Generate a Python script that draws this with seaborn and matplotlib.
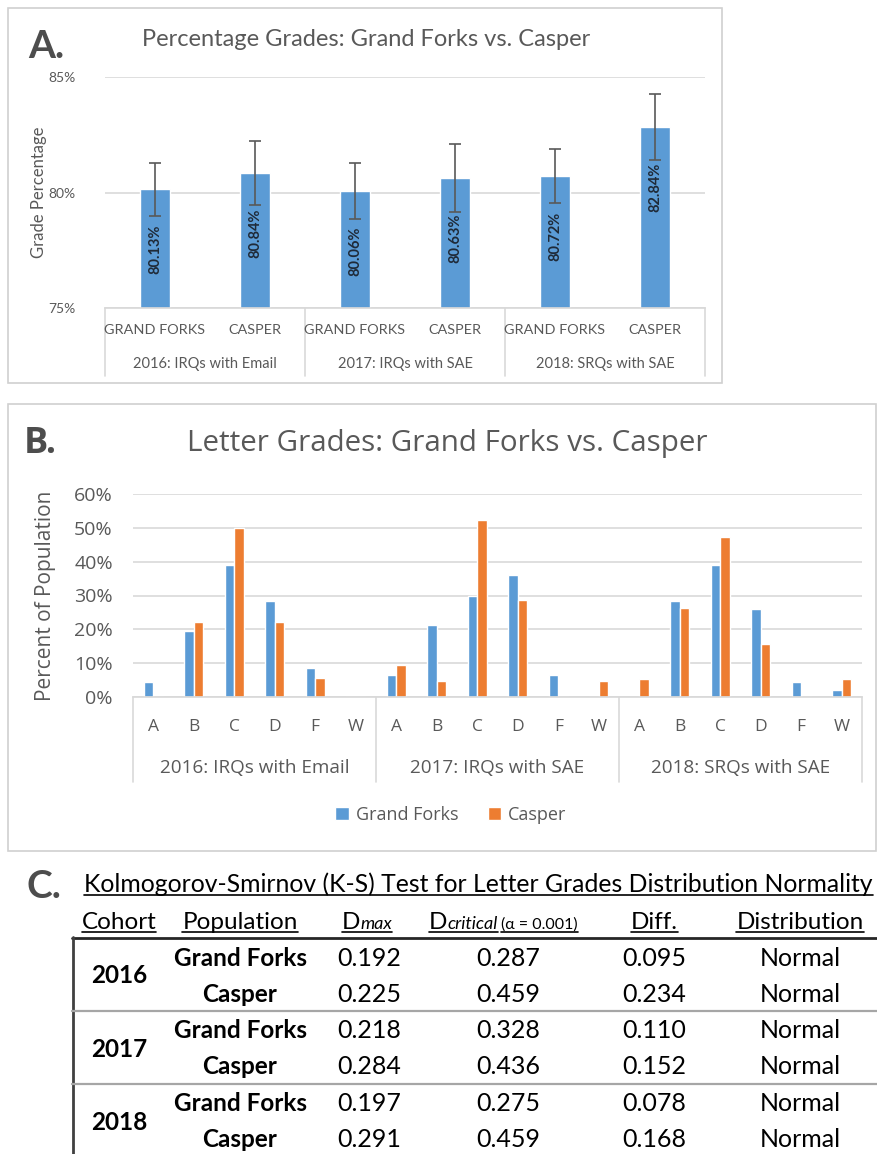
import numpy as np
import pandas as pd
import matplotlib
matplotlib.use("Agg")
import matplotlib.pyplot as plt
import matplotlib.transforms as mtransforms
from matplotlib.patches import Rectangle
from matplotlib.lines import Line2D
import seaborn as sns

# ---- Panel A: mean percentage grades with error bars ----
cohorts = ["2016: IRQs with Email", "2017: IRQs with SAE", "2018: SRQs with SAE"]
campuses_upper = ["GRAND FORKS", "CASPER"]
pct_grades = [80.13, 80.84, 80.06, 80.63, 80.72, 82.84]
pct_errors = [1.16, 1.37, 1.20, 1.47, 1.16, 1.44]

# ---- Panel B: letter grade distributions ----
letters = ["A", "B", "C", "D", "F", "W"]
campuses = ["Grand Forks", "Casper"]
gf_letter_pct = [4.4, 19.6, 39.1, 28.3, 8.7, 0.0,
                 6.4, 21.3, 29.8, 36.2, 6.4, 0.0,
                 0.0, 28.3, 39.1, 26.1, 4.3, 2.2]
casper_letter_pct = [0.0, 22.2, 50.0, 22.2, 5.6, 0.0,
                     9.5, 4.8, 52.4, 28.6, 0.0, 4.8,
                     5.3, 26.3, 47.4, 15.8, 0.0, 5.3]

# ---- Panel C: K-S normality test ----
ks_years = ["2016", "2017", "2018"]
ks_dmax = ["0.192", "0.225", "0.218", "0.284", "0.197", "0.291"]
ks_dcrit = ["0.287", "0.459", "0.328", "0.436", "0.275", "0.459"]
ks_diff = ["0.095", "0.234", "0.110", "0.152", "0.078", "0.168"]
ks_dist = ["Normal", "Normal", "Normal", "Normal", "Normal", "Normal"]

BLUE = "#5B9BD5"
ORANGE = "#ED7D31"
GRAY_TXT = "#595959"
GRID = "#D9D9D9"
CAL = ["Lato", "DejaVu Sans"]
SEG = ["Open Sans", "DejaVu Sans"]

sns.set_theme(style="white")
plt.rcParams["font.family"] = CAL

W, H = 877, 1154
fig = plt.figure(figsize=(W / 100, H / 100), dpi=100)
fig.patch.set_facecolor("white")


def fx(x):
    return x / W


def fy(y):
    return 1 - y / H


def axes_px(x0, y0, x1, y1):
    return fig.add_axes([x0 / W, 1 - y1 / H, (x1 - x0) / W, (y1 - y0) / H])


def frame_px(x0, y0, x1, y1, color="#D0D0D0", lw=1.2):
    fig.add_artist(Rectangle((fx(x0), fy(y1)), (x1 - x0) / W, (y1 - y0) / H,
                             transform=fig.transFigure, fill=False,
                             edgecolor=color, lw=lw))


def hline_px(x0, x1, y, color, lw):
    fig.add_artist(Line2D([fx(x0), fx(x1)], [fy(y), fy(y)],
                          transform=fig.transFigure, color=color, lw=lw))


def vline_px(x, y0, y1, color, lw):
    fig.add_artist(Line2D([fx(x), fx(x)], [fy(y0), fy(y1)],
                          transform=fig.transFigure, color=color, lw=lw))


# ================= Panel A =================
frame_px(8, 8, 722, 383)
fig.text(fx(28), fy(46), "A.", fontsize=28, fontweight="bold", color="#4D4D4D",
         ha="left", va="center")
fig.text(fx(366), fy(40), "Percentage Grades: Grand Forks vs. Casper",
         fontsize=17, color=GRAY_TXT, ha="center", va="center")

axA = axes_px(105, 77, 705, 308)
keysA = [f"{c}|{p}" for c in cohorts for p in campuses_upper]
dfA = pd.DataFrame({"key": keysA, "grade": pct_grades})
sns.barplot(data=dfA, x="key", y="grade", order=keysA, color=BLUE,
            saturation=1, width=0.3, errorbar=None, ax=axA, zorder=2)
axA.errorbar(np.arange(len(keysA)), pct_grades, yerr=pct_errors, fmt="none",
             ecolor="#595959", elinewidth=1.2, capsize=4, capthick=1.2, zorder=3)
axA.set_ylim(75, 85)
axA.set_xlim(-0.5, len(keysA) - 0.5)
axA.set_yticks([75, 80, 85])
axA.set_yticklabels(["75%", "80%", "85%"])
axA.yaxis.grid(True, color=GRID, lw=1.2, zorder=0)
axA.set_axisbelow(True)
axA.set_xticks([])
axA.set_xlabel("")
for s in axA.spines.values():
    s.set_visible(False)
axA.spines["bottom"].set_visible(True)
axA.spines["bottom"].set_color(GRID)
axA.tick_params(axis="y", length=0, pad=21, labelsize=10, labelcolor=GRAY_TXT)
axA.set_ylabel("Grade Percentage", fontsize=12, color=GRAY_TXT)
axA.yaxis.set_label_coords(-0.096, 0.5)

for i, v in enumerate(pct_grades):
    axA.text(i, v - 2.6, f"{v:.2f}%", rotation=90, ha="center", va="center",
             fontsize=10.5, fontweight="bold", color="#1F2A38", zorder=4)

trA = mtransforms.blended_transform_factory(axA.transData, fig.transFigure)
for i, k in enumerate(keysA):
    fig.text(i, fy(330), k.split("|")[1], transform=trA, ha="center",
             va="center", fontsize=10.4, color=GRAY_TXT)
for j, c in enumerate(cohorts):
    fig.text(2 * j + 0.5, fy(364), c, transform=trA, ha="center", va="center",
             fontsize=10.5, color=GRAY_TXT)
for xb in [-0.5, 1.5, 3.5, 5.5]:
    fig.add_artist(Line2D([xb, xb], [fy(308), fy(376)], transform=trA,
                          color=GRID, lw=1.2))

# ================= Panel B =================
frame_px(8, 404, 876, 851)
fig.text(fx(24), fy(444), "B.", fontsize=26, fontweight="bold", color="#4D4D4D",
         ha="left", va="center", family=SEG)
fig.text(fx(447), fy(444), "Letter Grades: Grand Forks vs. Casper",
         fontsize=21.3, color=GRAY_TXT, ha="center", va="center", family=SEG)

axB = axes_px(133, 494, 862, 697)
keysB = [f"{c}|{g}" for c in cohorts for g in letters]
dfB = pd.DataFrame({
    "key": keysB * 2,
    "campus": [campuses[0]] * len(keysB) + [campuses[1]] * len(keysB),
    "pct": gf_letter_pct + casper_letter_pct,
})
sns.barplot(data=dfB, x="key", y="pct", hue="campus", order=keysB,
            hue_order=campuses, palette=[BLUE, ORANGE], saturation=1,
            width=0.47, gap=0, errorbar=None, ax=axB, zorder=2)
axB.set_ylim(0, 60)
axB.set_xlim(-0.5, len(keysB) - 0.5)
axB.set_yticks(range(0, 61, 10))
axB.set_yticklabels([f"{t}%" for t in range(0, 61, 10)])
axB.yaxis.grid(True, color=GRID, lw=1.2, zorder=0)
axB.set_axisbelow(True)
axB.set_xticks([])
axB.set_xlabel("")
for s in axB.spines.values():
    s.set_visible(False)
axB.spines["bottom"].set_visible(True)
axB.spines["bottom"].set_color(GRID)
axB.tick_params(axis="y", length=0, pad=14.5, labelsize=14, labelcolor=GRAY_TXT,
                labelfontfamily="Open Sans")
axB.set_ylabel("Percent of Population", fontsize=15, color=GRAY_TXT, family=SEG)
axB.yaxis.set_label_coords(-0.106, 0.5)

trB = mtransforms.blended_transform_factory(axB.transData, fig.transFigure)
for i, k in enumerate(keysB):
    fig.text(i, fy(727), k.split("|")[1], transform=trB, ha="center",
             va="center", fontsize=12.5, color=GRAY_TXT, family=SEG)
for j, c in enumerate(cohorts):
    fig.text(6 * j + 2.5, fy(768), c, transform=trB, ha="center", va="center",
             fontsize=13.6, color=GRAY_TXT, family=SEG)
for xb in [-0.5, 5.5, 11.5, 17.5]:
    fig.add_artist(Line2D([xb, xb], [fy(697), fy(782)], transform=trB,
                          color=GRID, lw=1.2))

leg = axB.legend(loc="center", bbox_to_anchor=(fx(451), fy(815)),
                 bbox_transform=fig.transFigure, ncol=2, frameon=False,
                 handlelength=0.75, handleheight=0.75, handletextpad=0.4,
                 columnspacing=1.6, prop={"family": SEG, "size": 13})
for t in leg.get_texts():
    t.set_color(GRAY_TXT)

# ================= Panel C =================
renderer = fig.canvas.get_renderer()


def text_runs(x, y, parts, underline=False, ul_gap=3, ul_lw=1.2, ha="center"):
    """Place text pieces side by side on a common baseline at pixel y."""
    arts = [fig.text(0, fy(y), s, va="baseline", ha="left", **kw) for s, kw in parts]
    widths = [a.get_window_extent(renderer).width for a in arts]
    total = sum(widths)
    x0 = x - total / 2 if ha == "center" else x
    cur = x0
    for a, w in zip(arts, widths):
        a.set_x(fx(cur))
        cur += w
    if underline:
        hline_px(x0, x0 + total, y + ul_gap, "black", ul_lw)
    return x0, x0 + total


fig.text(fx(26), fy(898), "C.", fontsize=28, fontweight="bold", color="#4D4D4D",
         ha="left", va="baseline")
text_runs(84, 892, [("Kolmogorov-Smirnov (K-S) Test for Letter Grades Distribution Normality",
                     dict(fontsize=17.85, color="black"))], underline=True, ha="left")

hdr_y = 929
hdr = dict(fontsize=17.5, color="black")
sub = dict(fontsize=13, style="italic", color="black")
text_runs(119, hdr_y, [("Cohort", hdr)], underline=True)
text_runs(240, hdr_y, [("Population", hdr)], underline=True)
text_runs(367, hdr_y, [("D", hdr), ("max", sub)], underline=True)
text_runs(429, hdr_y, [("D", hdr), ("critical", sub)], underline=True, ha="left")
text_runs(501, hdr_y, [("(α = 0.001)", dict(fontsize=11.5, color="black"))],
          underline=True, ha="left")
text_runs(654, hdr_y, [("Diff.", hdr)], underline=True)
text_runs(800, hdr_y, [("Distribution", hdr)], underline=True)

# table rules
hline_px(72, 877, 937.5, "#262626", 2)
vline_px(72.5, 937, 1154, "#404040", 2)
hline_px(72, 877, 1011, "#A6A6A6", 1.6)
hline_px(72, 877, 1084, "#A6A6A6", 1.6)

row_base = [966, 1002, 1038, 1074, 1111, 1147]
year_base = [983, 1057, 1130]
cell = dict(fontsize=18, color="black")
bold = dict(fontsize=17.5, color="black", fontweight="bold")
for j, yr in enumerate(ks_years):
    text_runs(119, year_base[j], [(yr, bold)])
for r in range(6):
    yb = row_base[r]
    text_runs(240, yb, [(campuses[r % 2], bold)])
    text_runs(369, yb, [(ks_dmax[r], cell)])
    text_runs(508, yb, [(ks_dcrit[r], cell)])
    text_runs(654, yb, [(ks_diff[r], cell)])
    text_runs(800, yb, [(ks_dist[r], cell)])

fig.savefig("out.png", dpi=100, facecolor="white")
